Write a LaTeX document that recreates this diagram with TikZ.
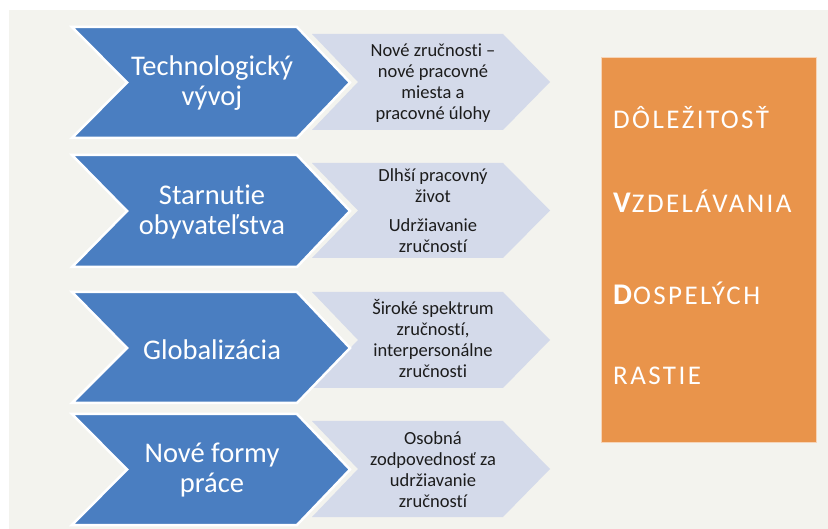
\documentclass[tikz,border=0pt]{standalone}
\usepackage{fontspec}
\setmainfont{Carlito}[Ligatures=NoCommon]
\newfontfamily\capsfont{Carlito}[Ligatures=NoCommon,LetterSpace=9]

\definecolor{bluechev}{HTML}{4A7EC1}
\definecolor{lightchev}{HTML}{D4DAEA}
\definecolor{orangebox}{HTML}{E9944B}
\definecolor{slidebg}{HTML}{F3F3EE}
\definecolor{inktext}{HTML}{1C1C1C}

\tikzset{
  darkchev/.style={fill=bluechev,draw=white,line width=2.5pt,line join=miter},
  lightchev/.style={fill=lightchev},
  bigtext/.style={inner sep=0pt,text=white,align=center,font=\fontsize{28.5}{29.5}\selectfont},
  smalltext/.style={inner sep=0pt,text=inktext,align=center,font=\fontsize{18.5}{21}\selectfont},
  boxtext/.style={inner sep=0pt,anchor=base west,text=white},
}

\newcommand{\smallcapword}[1]{{\capsfont\mdseries\fontsize{27}{27}\selectfont #1}}
\newcommand{\initialcap}[1]{{\fontsize{30}{30}\selectfont\bfseries #1\kern1pt}}

\begin{document}
\begin{tikzpicture}[x=1pt,y=-1pt]
\useasboundingbox (0,0) rectangle (828,529);
\fill[white] (0,0) rectangle (828,529);
\fill[slidebg] (9,10) rectangle (828,529);

% light chevrons
\fill[lightchev] (312,34) -- (503,34) -- (550,82) -- (503,130) -- (312,130) -- (358,82) -- cycle;
\fill[lightchev] (312,163) -- (503,163) -- (550,210.5) -- (503,258) -- (312,258) -- (358,210.5) -- cycle;
\fill[lightchev] (312,292) -- (503,292) -- (550,340) -- (503,388) -- (312,388) -- (358,340) -- cycle;
\fill[lightchev] (312,421) -- (503,421) -- (550,469) -- (503,517) -- (312,517) -- (358,469) -- cycle;

% dark chevrons
\draw[darkchev] (72,27) -- (297,27) -- (350,82.5) -- (297,138) -- (72,138) -- (127,82.5) -- cycle;
\draw[darkchev] (72,155) -- (297,155) -- (350,211) -- (297,267) -- (72,267) -- (127,211) -- cycle;
\draw[darkchev] (72,292) -- (297,292) -- (350,348) -- (297,403) -- (72,403) -- (127,348) -- cycle;
\draw[darkchev] (72,414) -- (297,414) -- (350,469.5) -- (297,525) -- (72,525) -- (127,469.5) -- cycle;

% texts in the dark chevrons
\node[bigtext] (tech) at (212,83) {Technologický\\vývoj};
\node[bigtext] (ageing) at (212,212) {Starnutie\\obyvateľstva};
\node[bigtext] (global) at (212,350) {Globalizácia};
\node[bigtext] (forms) at (212,470) {Nové formy\\práce};

% texts in the light chevrons
\node[smalltext] (technote) at (433,83) {Nové zručnosti --\\nové pracovné\\miesta a\\pracovné úlohy};
\node[smalltext] (ageingnote) at (433,211) {Dlhší pracovný\\život\\[8pt]Udržiavanie\\zručností};
\node[smalltext] (globalnote) at (433,338) {Široké spektrum\\zručností,\\interpersonálne\\zručnosti};
\node[smalltext] (formsnote) at (433,470) {Osobná\\zodpovednosť za\\udržiavanie\\zručností};

% orange box
\draw[fill=orangebox,draw=white!60!orangebox,line width=0.8pt] (601,57) rectangle (816,442);
\node[boxtext] (importance) at (613,129) {\smallcapword{DÔLEŽITOSŤ}};
\node[boxtext] (education) at (613,213) {\initialcap{V}\smallcapword{ZDELÁVANIA}};
\node[boxtext] (adults) at (613,305) {\initialcap{D}\smallcapword{OSPELÝCH}};
\node[boxtext] (grows) at (613,385) {\smallcapword{RASTIE}};
\end{tikzpicture}
\end{document}
